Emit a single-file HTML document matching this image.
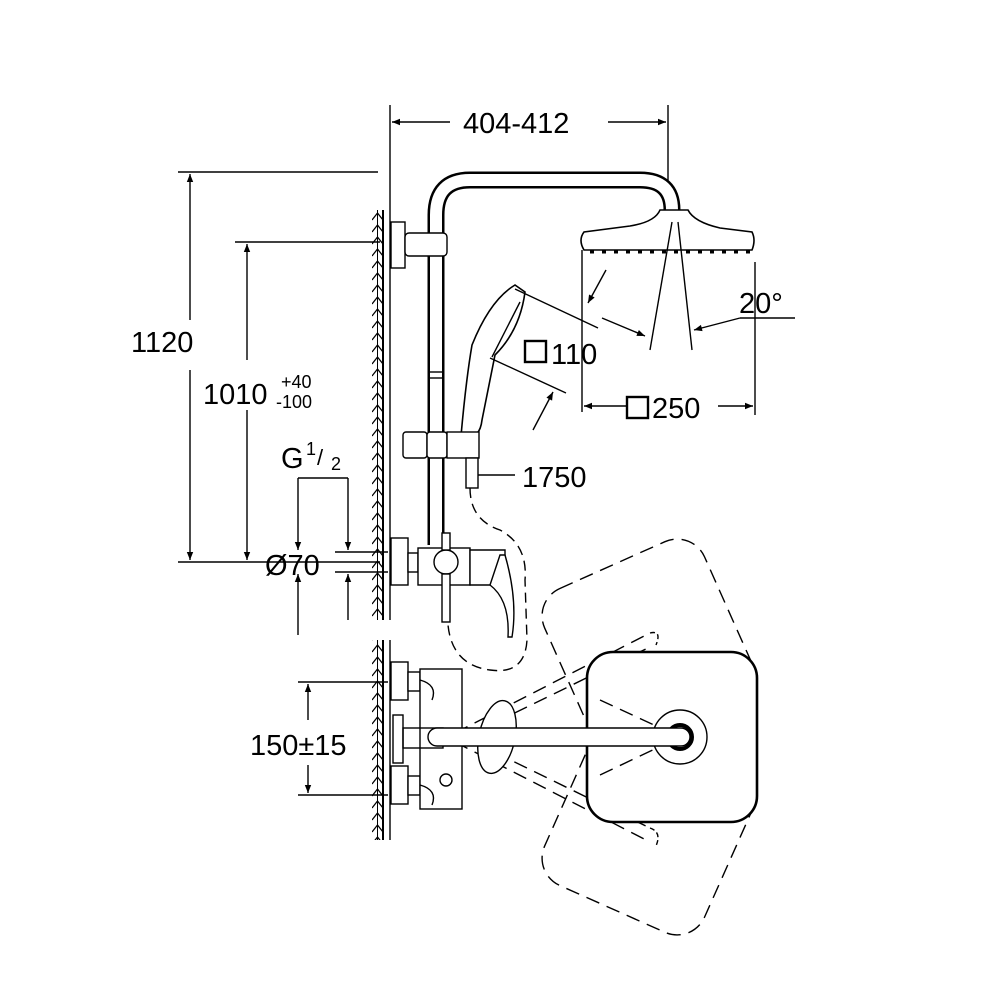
<!DOCTYPE html>
<html><head><meta charset="utf-8"><style>
html,body{margin:0;padding:0;background:#fff}
svg{display:block}
text{font-family:"Liberation Sans",sans-serif;fill:#000}
</style></head><body>
<svg width="1000" height="1000" viewBox="0 0 1000 1000" xmlns="http://www.w3.org/2000/svg">
<defs>
<marker id="a" viewBox="0 0 10 10" refX="10" refY="5" markerWidth="14" markerHeight="8" markerUnits="userSpaceOnUse" orient="auto"><path d="M0,1 L10,5 L0,9 z" fill="#000"/></marker>
<pattern id="h" x="372" y="210" width="11" height="12" patternUnits="userSpaceOnUse"><path d="M0,10 L5.5,3 L11,10" stroke="#000" stroke-width="1.3" fill="none"/></pattern>
</defs>
<g stroke="#000" fill="none" stroke-width="1.4">
<!-- wall -->
<rect x="372" y="210" width="11" height="410" fill="url(#h)" stroke="none"/>
<rect x="372" y="640" width="11" height="200" fill="url(#h)" stroke="none"/>
<line x1="377.5" y1="210" x2="377.5" y2="620" stroke-width="1"/>
<line x1="377.5" y1="640" x2="377.5" y2="840" stroke-width="1"/>
<line x1="383" y1="210" x2="383" y2="620" stroke-width="2"/>
<line x1="390" y1="105" x2="390" y2="620"/>
<line x1="383" y1="640" x2="383" y2="840" stroke-width="2"/>
<line x1="390" y1="640" x2="390" y2="840"/>
<!-- top dim -->
<line x1="668" y1="105" x2="668" y2="212"/>
<line x1="450" y1="122" x2="392" y2="122" marker-end="url(#a)"/>
<line x1="608" y1="122" x2="666" y2="122" marker-end="url(#a)"/>
<line x1="178" y1="172" x2="380" y2="172" stroke-dasharray="200 8 40"/>
<line x1="235" y1="242" x2="380" y2="242"/>
<line x1="178" y1="562" x2="380" y2="562"/>
<line x1="190" y1="320" x2="190" y2="174" marker-end="url(#a)"/>
<line x1="190" y1="370" x2="190" y2="560" marker-end="url(#a)"/>
<line x1="247" y1="360" x2="247" y2="244" marker-end="url(#a)"/>
<line x1="247" y1="410" x2="247" y2="560" marker-end="url(#a)"/>
<!-- G1/2 / Ø70 -->
<line x1="298" y1="478" x2="348" y2="478"/>
<line x1="298" y1="478" x2="298" y2="550" marker-end="url(#a)"/>
<line x1="298" y1="635" x2="298" y2="574" marker-end="url(#a)"/>
<line x1="348" y1="478" x2="348" y2="550" marker-end="url(#a)"/>
<line x1="348" y1="620" x2="348" y2="574" marker-end="url(#a)"/>
<line x1="335" y1="552" x2="388" y2="552"/>
<line x1="335" y1="572" x2="388" y2="572"/>
<!-- 150 -->
<line x1="298" y1="682" x2="388" y2="682"/>
<line x1="298" y1="795" x2="388" y2="795"/>
<line x1="308" y1="720" x2="308" y2="684" marker-end="url(#a)"/>
<line x1="308" y1="765" x2="308" y2="793" marker-end="url(#a)"/>
<!-- arm pipe -->
<path d="M436,545 L436,215 Q436,180 470,180 L640,180 Q672,180 672,210" stroke-width="17"/>
<path d="M436,545 L436,215 Q436,180 470,180 L640,180 Q672,180 672,210" stroke="#fff" stroke-width="12"/>
<line x1="429" y1="372" x2="443" y2="372"/><line x1="429" y1="378" x2="443" y2="378"/>
<!-- top bracket -->
<rect x="391" y="222" width="14" height="46" fill="#fff"/>
<rect x="405" y="233" width="42" height="23" rx="4" fill="#fff"/>
<!-- head -->
<path d="M660,210 L688,210 Q694,222 720,228 L752,232 Q756,240 752,250 L584,250 Q578,240 584,232 L630,226 Q655,222 660,210 Z" fill="#fff" stroke-width="1.6"/>
<path d="M590,252 L750,252" stroke-width="3" stroke-dasharray="4 8"/>
<!-- head dims -->
<line x1="582" y1="250" x2="582" y2="412"/>
<line x1="755" y1="262" x2="755" y2="415"/>
<line x1="628" y1="406" x2="584" y2="406" marker-end="url(#a)"/>
<line x1="718" y1="406" x2="753" y2="406" marker-end="url(#a)"/>
<line x1="672" y1="222" x2="650" y2="350"/>
<line x1="678" y1="222" x2="692" y2="350"/>
<line x1="602" y1="318" x2="645" y2="336" marker-end="url(#a)"/>
<line x1="795" y1="318" x2="740" y2="318"/>
<line x1="740" y1="318" x2="694" y2="330" marker-end="url(#a)"/>
<!-- hand shower -->
<path d="M515,285 L525,292 Q520,330 495,355 L482,420 Q480,438 466,438 L461,436 Q466,380 472,345 Q490,300 515,285 Z" fill="#fff" stroke-width="1.6"/>
<line x1="492" y1="357" x2="520" y2="302"/>
<line x1="515" y1="289" x2="598" y2="328"/>
<line x1="490" y1="358" x2="566" y2="393"/>
<line x1="606" y1="270" x2="588" y2="303" marker-end="url(#a)"/>
<line x1="533" y1="430" x2="553" y2="392" marker-end="url(#a)"/>
<!-- slider -->
<rect x="403" y="432" width="24" height="26" rx="3" fill="#fff"/>
<rect x="427" y="432" width="20" height="26" rx="3" fill="#fff"/>
<rect x="447" y="432" width="32" height="26" fill="#fff"/>
<rect x="466" y="458" width="12" height="30" fill="#fff"/>
<line x1="478" y1="475" x2="515" y2="475"/>
<!-- hose dashed -->
<path d="M470,488 Q470,520 500,530 Q528,545 525,580 L527,640 Q525,675 490,670 Q452,665 448,625" stroke-dasharray="10 6"/>
<!-- upper valve -->
<rect x="391" y="538" width="17" height="47" fill="#fff"/>
<rect x="408" y="553" width="10" height="19" fill="#fff"/>
<rect x="418" y="548" width="52" height="37" fill="#fff"/>
<circle cx="446" cy="562" r="12" fill="#fff"/>
<rect x="442" y="533" width="8" height="17" fill="#fff"/>
<rect x="442" y="574" width="8" height="48" fill="#fff"/>
<path d="M470,550 L505,550 L505,585 L470,585 Z" fill="#fff"/>
<path d="M490,585 L500,555 L505,555 Q518,600 512,637 L508,637 Q510,600 490,585" fill="#fff"/>
<!-- lower valve -->
<rect x="391" y="662" width="17" height="38" fill="#fff"/>
<rect x="408" y="672" width="12" height="19" fill="#fff"/>
<rect x="391" y="766" width="17" height="38" fill="#fff"/>
<rect x="408" y="776" width="12" height="19" fill="#fff"/>
<rect x="420" y="669" width="42" height="140" fill="#fff"/>
<path d="M420,680 Q438,685 432,700"/><path d="M420,785 Q438,790 432,805"/>
<circle cx="446" cy="780" r="6"/>
<rect x="393" y="715" width="10" height="48"/>
<rect x="403" y="728" width="40" height="20"/>
<!-- dashed rotated squares -->
<rect x="560.5" y="557.5" width="175" height="175" rx="30" transform="rotate(-24 648 645)" stroke-dasharray="14 8"/>
<rect x="560.5" y="741.5" width="175" height="175" rx="30" transform="rotate(24 648 829)" stroke-dasharray="14 8"/>
<line x1="455" y1="733" x2="650" y2="633" stroke-dasharray="14 8"/>
<line x1="455" y1="742" x2="650" y2="647" stroke-dasharray="14 8"/>
<line x1="455" y1="733" x2="650" y2="828" stroke-dasharray="14 8"/>
<line x1="455" y1="742" x2="650" y2="842" stroke-dasharray="14 8"/>
<path d="M650,633 Q662,630 656,645" stroke-dasharray="5 3"/>
<path d="M650,828 Q662,832 656,846" stroke-dasharray="5 3"/>
<!-- solid square -->
<rect x="587" y="652" width="170" height="170" rx="26" fill="#fff" stroke-width="2.6"/>
<line x1="600" y1="700" x2="680" y2="737" stroke-dasharray="14 8"/>
<line x1="600" y1="775" x2="680" y2="737" stroke-dasharray="14 8"/>
<circle cx="680" cy="737" r="27" fill="#fff"/>
<circle cx="680" cy="737" r="12" stroke-width="4"/>
<!-- handle oval -->
<ellipse cx="497" cy="737" rx="18" ry="37" transform="rotate(12 497 737)" fill="#fff"/>
<rect x="428" y="728" width="262" height="18" rx="9" fill="#fff"/>
</g>
<g font-size="29">
<text x="463" y="133">404-412</text>
<text x="131" y="352">1120</text>
<text x="203" y="404">1010</text>
<text x="281" y="388" font-size="18">+40</text>
<text x="276" y="408" font-size="18">-100</text>
<text x="281" y="468">G</text>
<text x="306" y="455" font-size="18">1</text>
<text x="317" y="465" font-size="22">/</text>
<text x="331" y="470" font-size="18">2</text>
<text x="265" y="575">Ø70</text>
<text x="250" y="755">150±15</text>
<text x="522" y="487">1750</text>
<text x="551" y="364">110</text>
<text x="652" y="418">250</text>
<text x="739" y="313">20°</text>
</g>
<g fill="none" stroke="#000" stroke-width="2.4">
<rect x="525" y="341" width="21" height="21"/>
<rect x="627" y="397" width="21" height="21"/>
</g>
</svg>
</body></html>
